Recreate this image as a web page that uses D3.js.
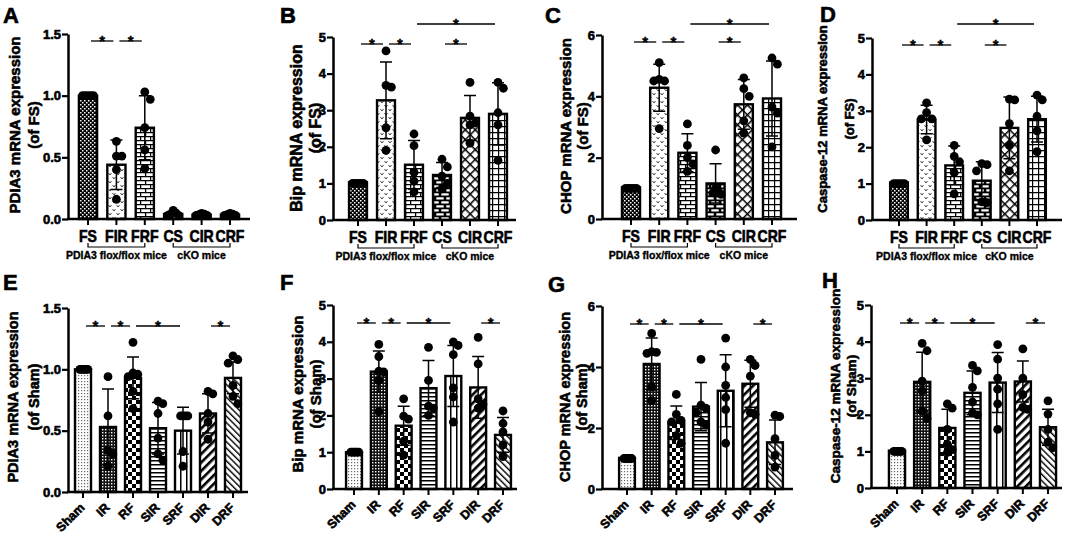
<!DOCTYPE html>
<html>
<head>
<meta charset="utf-8">
<script src="https://cdn.jsdelivr.net/npm/d3@7"></script>
<style>
  body { margin: 0; background: #fff; }
  text { font-family: "Liberation Sans", Arial, sans-serif; font-weight: bold; fill: #000;
         stroke: #000; stroke-width: 0.35px; }
  text.heavy { stroke-width: 0.6px; }
</style>
</head>
<body>
<div id="chart"></div>
<script>
// ---- data ----
const topCats = ["FS", "FIR", "FRF", "CS", "CIR", "CRF"];
const bottomCats = ["Sham", "IR", "RF", "SIR", "SRF", "DIR", "DRF"];
const topGroups = [["PDIA3 flox/flox mice", "FS", "FRF"], ["cKO mice", "CS", "CRF"]];

const meanA = [1.00, 0.44, 0.74, 0.04, 0.035, 0.035];
const sdA = [0.005, 0.20, 0.26, 0.02, 0.01, 0.01];
const dotsA = [[1, 1, 1, 1, 1], [0.63, 0.51, 0.51, 0.40, 0.16], [1.03, 0.97, 0.74, 0.56, 0.41],
  [0.07, 0.05, 0.04, 0.03, 0.03], [0.045, 0.04, 0.035, 0.03, 0.03], [0.045, 0.04, 0.035, 0.03, 0.03]];

const meanB = [1.03, 3.27, 1.51, 1.23, 2.79, 2.90];
const sdB = [0.02, 1.05, 0.66, 0.34, 0.61, 0.85];
const dotsB = [[1, 1, 1, 1, 1], [4.62, 3.68, 3.63, 2.52, 1.90], [2.35, 2.03, 1.30, 1.06, 0.77],
  [1.66, 1.45, 1.20, 1.00, 0.85], [3.76, 2.84, 2.65, 2.60, 2.10], [3.76, 3.60, 2.93, 2.60, 1.63]];

const meanC = [1.03, 4.28, 2.16, 1.16, 3.74, 3.93];
const sdC = [0.02, 0.77, 0.62, 0.64, 0.81, 1.22];
const dotsC = [[1, 1, 1, 1, 1], [5.10, 4.55, 4.50, 4.50, 2.95], [3.10, 2.40, 2.00, 1.80, 1.55],
  [2.25, 1.00, 0.90, 0.85, 0.80], [4.60, 4.25, 4.00, 3.20, 2.80], [5.25, 5.05, 3.65, 3.45, 2.35]];

const meanD = [1.03, 2.76, 1.50, 1.08, 2.53, 2.77];
const sdD = [0.02, 0.39, 0.53, 0.52, 0.85, 0.63];
const dotsD = [[1, 1, 1, 1, 1], [3.22, 2.95, 2.78, 2.78, 2.20], [2.05, 1.75, 1.60, 1.30, 0.72],
  [1.55, 1.52, 1.35, 0.50, 0.48], [3.32, 3.30, 2.65, 2.05, 1.35], [3.43, 3.30, 2.85, 2.45, 1.88]];

const meanE = [1.00, 0.53, 0.93, 0.52, 0.50, 0.64, 0.93];
const sdE = [0.005, 0.31, 0.17, 0.21, 0.19, 0.16, 0.13];
const dotsE = [[1, 1, 1, 1, 1, 1], [0.94, 0.62, 0.34, 0.31, 0.21], [1.22, 0.97, 0.96, 0.94, 0.82, 0.68],
  [0.74, 0.72, 0.64, 0.44, 0.31, 0.26], [0.62, 0.62, 0.62, 0.62, 0.33, 0.21],
  [0.82, 0.80, 0.64, 0.57, 0.43], [1.11, 1.08, 1.05, 0.87, 0.78, 0.72]];

const meanF = [1.00, 3.19, 1.72, 2.74, 3.07, 2.76, 1.47];
const sdF = [0.02, 0.56, 0.53, 0.75, 0.83, 0.84, 0.47];
const dotsF = [[1, 1, 1, 1, 1, 1], [3.93, 3.60, 3.20, 3.18, 2.95, 2.10], [2.45, 1.98, 1.90, 1.30, 0.92],
  [3.85, 2.95, 2.25, 2.20, 2.00], [4.00, 3.90, 3.65, 2.75, 2.50, 1.82],
  [4.12, 3.40, 2.45, 2.30, 2.20], [2.12, 1.78, 1.55, 1.20, 0.88]];

const meanG = [1.02, 4.10, 2.17, 2.70, 3.22, 3.45, 1.53];
const sdG = [0.02, 0.85, 0.55, 0.79, 1.18, 0.77, 0.73];
const dotsG = [[1, 1, 1, 1, 1, 1], [5.10, 4.50, 4.48, 4.45, 3.35, 2.90], [3.10, 2.45, 2.25, 2.20, 1.75, 1.50],
  [4.25, 2.75, 2.65, 2.50, 2.20, 2.10], [4.95, 4.00, 3.40, 3.00, 2.60, 1.50],
  [4.25, 4.05, 3.70, 2.50, 2.45], [2.42, 2.38, 1.65, 1.10, 0.72]];

const meanH = [1.02, 2.90, 1.64, 2.60, 2.88, 2.91, 1.66];
const sdH = [0.02, 0.81, 0.51, 0.60, 0.82, 0.56, 0.49];
const dotsH = [[1, 1, 1, 1, 1, 1], [3.95, 3.75, 2.92, 2.65, 2.10, 1.90], [2.30, 2.18, 1.60, 1.20, 1.05, 0.97],
  [3.35, 3.20, 2.75, 2.35, 2.05, 2.00], [3.92, 3.52, 3.00, 2.70, 2.30, 1.60],
  [3.80, 3.00, 2.55, 2.20, 2.15], [2.38, 2.02, 1.60, 1.25, 1.10]];

const ticks15 = [0, 0.5, 1.0, 1.5];
const ticks5 = [0, 1, 2, 3, 4, 5];
const ticks6 = [0, 2, 4, 6];

// significance: [from, to, tier]
const sigA = [["FS", "FIR", 0], ["FIR", "FRF", 0]];
const sigBCD = [["FS", "FIR", 0], ["FIR", "FRF", 0], ["CS", "CIR", 0], ["FRF", "CRF", 1]];
const sigBottom = [["Sham", "IR", 0], ["IR", "RF", 0], ["RF", "SRF", 0], ["DIR", "DRF", 0]];

const titles = {
  A: ["PDIA3 mRNA expression", "(of FS)"], B: ["Bip mRNA expression", "(of FS)"],
  C: ["CHOP mRNA expression", "(of FS)"], D: ["Caspase-12 mRNA expression", "(of FS)"],
  E: ["PDIA3 mRNA expression", "(of Sham)"], F: ["Bip mRNA expression", "(of Sham)"],
  G: ["CHOP mRNA expression", "(of Sham)"], H: ["Caspase-12 mRNA expression", "(of Sham)"]
};

// ---- layout ----
const W = 1065, H = 535;
const svg = d3.select("#chart").append("svg").attr("width", W).attr("height", H);
const defs = svg.append("defs");

function pattern(id, w, h, draw, transform) {
  const p = defs.append("pattern").attr("id", id)
    .attr("patternUnits", "userSpaceOnUse").attr("width", w).attr("height", h);
  if (transform) p.attr("patternTransform", transform);
  draw(p);
}
pattern("pFS", 4, 4, p => {
  p.append("rect").attr("width", 4).attr("height", 4).attr("fill", "#000");
  p.append("rect").attr("x", 0).attr("y", 0).attr("width", 1.5).attr("height", 1.5).attr("fill", "#fff");
  p.append("rect").attr("x", 2).attr("y", 2).attr("width", 1.5).attr("height", 1.5).attr("fill", "#fff");
});
pattern("pFIR", 8, 8, p => {
  p.append("rect").attr("width", 8).attr("height", 8).attr("fill", "#fff");
  p.append("path").attr("d", "M0.5,1 L2,3 L3.5,1 M4.5,5 L6,7 L7.5,5")
    .attr("fill", "none").attr("stroke", "#333").attr("stroke-width", 0.9);
});
pattern("pBrick", 10, 8, p => {
  p.append("rect").attr("width", 10).attr("height", 8).attr("fill", "#fff");
  p.append("path").attr("d", "M0,0.6 H10 M0,4.6 H10 M0.6,0.6 V4.6 M5.6,4.6 V8.6")
    .attr("stroke", "#000").attr("stroke-width", 1.3);
});
pattern("pBrickInv", 10, 8, p => {
  p.append("rect").attr("width", 10).attr("height", 8).attr("fill", "#000");
  [[1.3, 1.3], [6.3, 5.3], [-3.7, 5.3]].forEach(([x, y]) =>
    p.append("rect").attr("x", x).attr("y", y).attr("width", 7.4).attr("height", 2.2).attr("fill", "#fff"));
});
pattern("pDiamond", 7, 7, p => {
  p.append("rect").attr("width", 7).attr("height", 7).attr("fill", "#fff");
  p.append("path").attr("d", "M0,0 H7 M0,0 V7").attr("stroke", "#000").attr("stroke-width", 3);
}, "rotate(45)");
pattern("pGrid", 6, 6, p => {
  p.append("rect").attr("width", 6).attr("height", 6).attr("fill", "#fff");
  p.append("path").attr("d", "M0,0.5 H6 M0.5,0 V6").attr("stroke", "#000").attr("stroke-width", 1.4);
});
pattern("pStipple", 3, 3, p => {
  p.append("rect").attr("width", 3).attr("height", 3).attr("fill", "#fff");
  p.append("rect").attr("width", 1.2).attr("height", 1.2).attr("fill", "#666");
});
pattern("pFineCheck", 3, 3, p => {
  p.append("rect").attr("width", 3).attr("height", 3).attr("fill", "#111");
  p.append("rect").attr("width", 1.4).attr("height", 1.4).attr("fill", "#fff");
});
pattern("pCheck", 8, 8, p => {
  p.append("rect").attr("width", 8).attr("height", 8).attr("fill", "#fff");
  p.append("rect").attr("width", 4).attr("height", 4).attr("fill", "#000");
  p.append("rect").attr("x", 4).attr("y", 4).attr("width", 4).attr("height", 4).attr("fill", "#000");
});
pattern("pHStripe", 4, 4, p => {
  p.append("rect").attr("width", 4).attr("height", 4).attr("fill", "#fff");
  p.append("rect").attr("width", 4).attr("height", 1.5).attr("fill", "#000");
});
pattern("pVStripe", 6, 4, p => {
  p.append("rect").attr("width", 6).attr("height", 4).attr("fill", "#fff");
  p.append("rect").attr("width", 1.5).attr("height", 4).attr("fill", "#000");
});
pattern("pDiag", 6, 6, p => {
  p.append("rect").attr("width", 6).attr("height", 6).attr("fill", "#fff");
  p.append("rect").attr("width", 2.6).attr("height", 6).attr("fill", "#000");
}, "rotate(45)");
pattern("pDiagBack", 4.5, 4.5, p => {
  p.append("rect").attr("width", 4.5).attr("height", 4.5).attr("fill", "#fff");
  p.append("rect").attr("width", 1.4).attr("height", 4.5).attr("fill", "#000");
}, "rotate(-45)");

const topFills = ["pFS", "pFIR", "pBrick", "pBrickInv", "pDiamond", "pGrid"];
const bottomFills = ["pStipple", "pFineCheck", "pCheck", "pHStripe", "pVStripe", "pDiag", "pDiagBack"];

const panels = [
  {id: "A", cats: topCats, mean: meanA, sd: sdA, dots: dotsA, ticks: ticks15, fmt: ".1f", sig: sigA,
   lx: 3, ly: 23, ax: 68, top: 34, bottom: 219, c0: 88, c1: 230, end: 250, t1: 14, t2: 33, ty: 125, ts: 15},
  {id: "B", cats: topCats, mean: meanB, sd: sdB, dots: dotsB, ticks: ticks5, fmt: "d", sig: sigBCD,
   lx: 280, ly: 23, ax: 333, top: 37, bottom: 220, c0: 358, c1: 498, end: 516, t1: 296, t2: 315, ty: 128, ts: 16},
  {id: "C", cats: topCats, mean: meanC, sd: sdC, dots: dotsC, ticks: ticks6, fmt: "d", sig: sigBCD,
   lx: 545, ly: 23, ax: 602, top: 35, bottom: 219, c0: 631, c1: 772, end: 797, t1: 565, t2: 582, ty: 126, ts: 15},
  {id: "D", cats: topCats, mean: meanD, sd: sdD, dots: dotsD, ticks: ticks5, fmt: "d", sig: sigBCD,
   lx: 820, ly: 22, ax: 872, top: 38, bottom: 220, c0: 899, c1: 1037, end: 1062, t1: 822, t2: 849, ty: 119, ts: 13},
  {id: "E", cats: bottomCats, mean: meanE, sd: sdE, dots: dotsE, ticks: ticks15, fmt: ".1f", sig: sigBottom,
   lx: 3, ly: 290, ax: 68, top: 308, bottom: 492, c0: 83, c1: 233, end: 248, t1: 13, t2: 34, ty: 397, ts: 14.5},
  {id: "F", cats: bottomCats, mean: meanF, sd: sdF, dots: dotsF, ticks: ticks5, fmt: "d", sig: sigBottom,
   lx: 280, ly: 290, ax: 333, top: 305, bottom: 489, c0: 354, c1: 503, end: 517, t1: 297, t2: 315, ty: 394, ts: 15},
  {id: "G", cats: bottomCats, mean: meanG, sd: sdG, dots: dotsG, ticks: ticks6, fmt: "d", sig: sigBottom,
   lx: 548, ly: 292, ax: 602, top: 306, bottom: 489, c0: 627, c1: 775, end: 793, t1: 565, t2: 582, ty: 397, ts: 14.5},
  {id: "H", cats: bottomCats, mean: meanH, sd: sdH, dots: dotsH, ticks: ticks5, fmt: "d", sig: sigBottom,
   lx: 822, ly: 288, ax: 871, top: 305, bottom: 488, c0: 897, c1: 1048, end: 1062, t1: 835, t2: 851, ty: 386, ts: 13.5}
];

// simple beeswarm: nudge dots sideways when they would overlap
function swarm(vals, y, r, limit) {
  const placed = [];
  const step = r * 2;
  vals.forEach(v => {
    const py = y(v);
    let dx = 0;
    for (let k = 0; k < 11; k++) {
      const off = k === 0 ? 0 : Math.ceil(k / 2) * step * (k % 2 ? 1 : -1);
      if (placed.every(p => Math.hypot(p.dx - off, p.py - py) >= step - 0.5)) { dx = off; break; }
    }
    placed.push({v, py, dx});
  });
  const m = d3.max(placed, p => Math.abs(p.dx));
  if (m > limit) placed.forEach(p => p.dx *= limit / m);
  return placed;
}

panels.forEach(P => {
  const isTop = P.cats === topCats;
  const g = svg.append("g");
  const n = P.cats.length;
  const step = (P.c1 - P.c0) / (n - 1);
  const x = d3.scaleBand().domain(P.cats)
    .range([P.c0 - step / 2, P.c1 + step / 2]).paddingInner(0.36).paddingOuter(0.18);
  const y = d3.scaleLinear().domain([0, d3.max(P.ticks)]).range([P.bottom, P.top]);
  const bw = x.bandwidth();
  const cx = c => x(c) + bw / 2;
  const fills = isTop ? topFills : bottomFills;

  // panel letter
  g.append("text").attr("class", "heavy").attr("x", P.lx).attr("y", P.ly).style("font-size", "22px").text(P.id);

  // y title
  titles[P.id].forEach((t, i) => {
    g.append("text").attr("class", "heavy")
      .attr("transform", `translate(${i ? P.t2 : P.t1},${P.ty}) rotate(-90)`)
      .attr("text-anchor", "middle").attr("dominant-baseline", "central")
      .style("font-size", P.ts + "px").text(t);
  });

  // bars
  g.selectAll(".bar").data(P.cats).join("rect")
    .attr("x", c => x(c)).attr("width", bw)
    .attr("y", (c, i) => y(P.mean[i])).attr("height", (c, i) => P.bottom - y(P.mean[i]))
    .attr("fill", (c, i) => `url(#${fills[i]})`)
    .attr("stroke", "#000").attr("stroke-width", 2.4);

  // dots
  P.cats.forEach((c, i) => {
    const pts = swarm(P.dots[i], y, 4.4, bw * 0.3);
    g.selectAll(null).data(pts).join("circle")
      .attr("cx", d => cx(c) + d.dx).attr("cy", d => d.py).attr("r", 4.4).attr("fill", "#000");
  });

  // error bars (mean +/- SD)
  P.cats.forEach((c, i) => {
    const lo = y(P.mean[i] - P.sd[i]), hi = y(P.mean[i] + P.sd[i]), xc = cx(c);
    g.append("path")
      .attr("d", `M${xc},${lo} V${hi} M${xc - 6},${hi} H${xc + 6} M${xc - 6},${lo} H${xc + 6}`)
      .attr("stroke", "#000").attr("stroke-width", 1.5).attr("fill", "none");
  });

  // y axis
  const yAxis = g.append("g").attr("transform", `translate(${P.ax},0)`)
    .call(d3.axisLeft(y).tickValues(P.ticks).tickSize(6).tickSizeOuter(0).tickPadding(1)
      .tickFormat(d3.format(P.fmt)));
  yAxis.select(".domain").attr("stroke-width", 2.5);
  yAxis.selectAll(".tick line").attr("stroke-width", 2.2);
  yAxis.selectAll("text").attr("class", "heavy").style("font-size", "13px").style("font-family", null);

  // x axis
  g.append("line").attr("x1", P.ax - 1).attr("x2", P.end).attr("y1", P.bottom).attr("y2", P.bottom)
    .attr("stroke", "#000").attr("stroke-width", 2.5);
  const xAxis = g.append("g").attr("transform", `translate(0,${P.bottom})`)
    .call(d3.axisBottom(x).tickSize(6).tickSizeOuter(0).tickPadding(6));
  xAxis.select(".domain").remove();
  xAxis.selectAll(".tick line").attr("stroke-width", 2);
  xAxis.selectAll("text").attr("class", "heavy").style("font-family", null);
  if (isTop) {
    // the figure's lettering is a little narrower than Liberation Sans
    xAxis.selectAll("text").style("font-size", "16px").attr("transform", "scale(0.88,1)");
    const by = P.bottom + 28;
    topGroups.forEach(([label, a, b]) => {
      g.append("path").attr("d", `M${cx(a)},${by - 4} V${by} H${cx(b)} V${by - 4}`)
        .attr("fill", "none").attr("stroke", "#000").attr("stroke-width", 1.2);
      g.append("text").attr("x", (cx(a) + cx(b)) / 2).attr("y", by + 12)
        .attr("text-anchor", "middle").style("font-size", "10.5px").text(label);
    });
  } else {
    xAxis.selectAll("text")
      .attr("x", 0).attr("y", 0).attr("dy", "0.72em")
      .attr("transform", "translate(-4,10) rotate(-45)")
      .style("text-anchor", "end").style("font-size", "12.5px");
  }

  // significance bars
  const tierY = isTop ? [P.top + 7, 24] : [P.top + 18];
  P.sig.forEach(([a, b, tier]) => {
    const ly = tierY[tier];
    const x1 = cx(a) + 3, x2 = cx(b) - 3;
    g.append("line").attr("x1", x1).attr("x2", x2).attr("y1", ly).attr("y2", ly)
      .attr("stroke", "#000").attr("stroke-width", 1.3);
    g.append("text").attr("x", (x1 + x2) / 2).attr("y", ly + 5)
      .attr("text-anchor", "middle").style("font-size", "15px").text("*");
  });
});
</script>
</body>
</html>
